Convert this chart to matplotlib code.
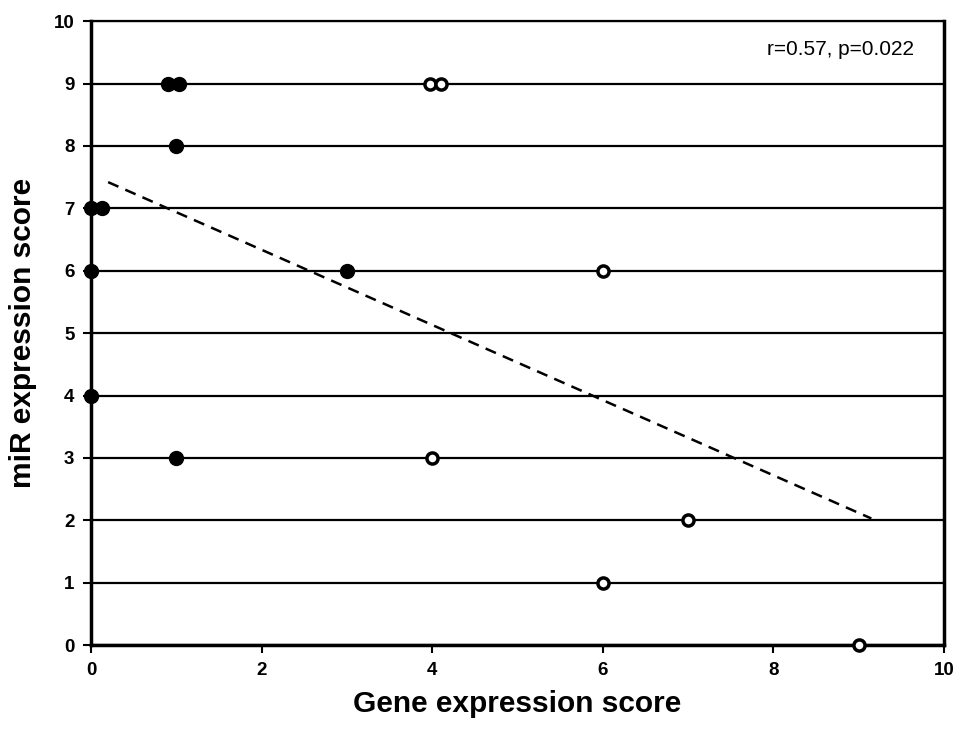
import matplotlib
matplotlib.use("Agg")
from matplotlib import pyplot as plt
import numpy as np

plt.rcParams['font.family'] = ['Liberation Sans', 'DejaVu Sans']

# filled circles
filled_x = [0.9, 1.03, 1.0, 0.0, 0.13, 0.0, 3.0, 0.0, 1.0]
filled_y = [9, 9, 8, 7, 7, 6, 6, 4, 3]
# open circles
open_x = [3.98, 4.1, 6.0, 4.0, 7.0, 6.0, 9.0]
open_y = [9, 9, 6, 3, 2, 1, 0]
# trend line ends
fit_x = [0.2, 9.15]
fit_y = [7.42, 2.03]

x_ticks = [0, 2, 4, 6, 8, 10]
y_ticks = list(range(0, 11))

fig = plt.figure(figsize=(9.69, 7.29), dpi=100)
ax = fig.add_axes([0.094, 0.115, 0.880, 0.856])

for yv in y_ticks:
    ax.axhline(yv, color='k', linewidth=1.6, zorder=1)

ax.plot(fit_x, fit_y, linestyle=(0, (4.5, 3)), color='k', linewidth=1.8, zorder=2)

ax.plot(filled_x, filled_y, linestyle='none', marker='o', markersize=10,
        markerfacecolor='k', markeredgecolor='k', clip_on=False, zorder=3)
ax.plot(open_x, open_y, linestyle='none', marker='o', markersize=8,
        markerfacecolor='w', markeredgecolor='k', markeredgewidth=2.5,
        clip_on=False, zorder=3)

ax.set_xlim(0, 10)
ax.set_ylim(0, 10)
ax.set_xticks(x_ticks)
ax.set_yticks(y_ticks)
ax.tick_params(direction='out', length=6, width=1.5, labelsize=13.5, pad=6)
for lab in ax.get_xticklabels() + ax.get_yticklabels():
    lab.set_fontweight('bold')

for s in ax.spines.values():
    s.set_linewidth(2.5)
ax.spines['top'].set_linewidth(1.6)

ax.set_xlabel('Gene expression score', fontsize=21.5, fontweight='bold', labelpad=8)
ax.set_ylabel('miR expression score', fontsize=21.5, fontweight='bold', labelpad=12)

ax.text(9.65, 9.55, 'r=0.57, p=0.022', fontsize=15, ha='right', va='center')

fig.savefig('out.png', dpi=100)
